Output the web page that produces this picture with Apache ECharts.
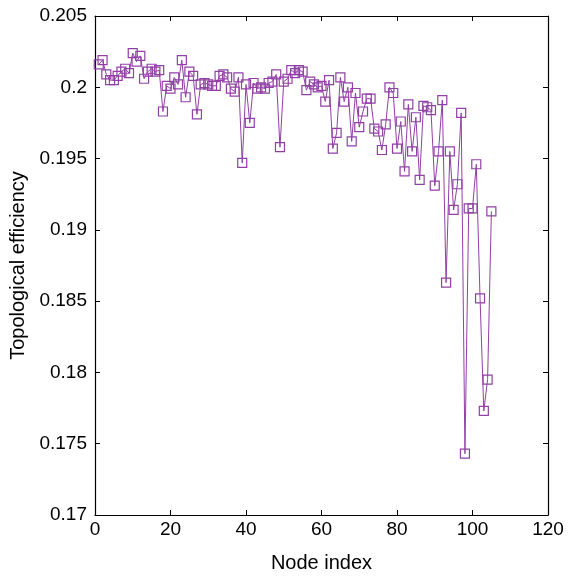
<!DOCTYPE html>
<html>
<head>
<meta charset="utf-8">
<script src="https://cdn.jsdelivr.net/npm/echarts@6/dist/echarts.min.js"></script>
<style>
  html, body { margin: 0; padding: 0; background: #fff; }
  #chart { width: 571px; height: 578px; }
</style>
</head>
<body>
<div id="chart"></div>
<script>
// Topological efficiency of the network after removing each node
const efficiency = [
  0.2016, 0.2019, 0.2009, 0.2005, 0.2005, 0.2008, 0.2011, 0.2013, 0.2010, 0.2024,
  0.2018, 0.2022, 0.2006, 0.2011, 0.2013, 0.2011, 0.2012, 0.1983, 0.2001, 0.1999,
  0.2007, 0.2002, 0.2019, 0.1993, 0.2011, 0.2008, 0.1981, 0.2002, 0.2003, 0.2002,
  0.2001, 0.2001, 0.2008, 0.2009, 0.2007, 0.1999, 0.1997, 0.2007, 0.1947, 0.2002,
  0.1975, 0.2003, 0.1999, 0.2000, 0.1999, 0.2003, 0.2004, 0.2009, 0.1958, 0.2004,
  0.2006, 0.2012, 0.2010, 0.2012, 0.2011, 0.1998, 0.2004, 0.2002, 0.2000, 0.2001,
  0.1990, 0.2005, 0.1957, 0.1968, 0.2007, 0.1990, 0.2000, 0.1962, 0.1996, 0.1972,
  0.1983, 0.1992, 0.1992, 0.1971, 0.1969, 0.1956, 0.1974, 0.2000, 0.1996, 0.1957,
  0.1976, 0.1941, 0.1988, 0.1955, 0.1979, 0.1935, 0.1987, 0.1986, 0.1984, 0.1931,
  0.1955, 0.1991, 0.1863, 0.1955, 0.1914, 0.1932, 0.1982, 0.1743, 0.1915, 0.1915,
  0.1946, 0.1852, 0.1773, 0.1795, 0.1913
];
// Node numbering starts at 1
const nodeIndex = efficiency.map((_, i) => i + 1);

const xTicks = { min: 0, max: 120, interval: 20 };
const yTicks = { min: 0.17, max: 0.205, interval: 0.005 };

const purple = '#9140a5';
const font = 'Liberation Sans, Arial, sans-serif';
const fontSize = 19;
const nameFontSize = 20;

const chart = echarts.init(document.getElementById('chart'), null, { renderer: 'canvas' });

const axisBase = {
  axisLine: { show: true, onZero: false, lineStyle: { color: '#000', width: 1.2 } },
  axisTick: { show: true, inside: true, length: 5, lineStyle: { color: '#000', width: 1 } },
  splitLine: { show: false }
};

chart.setOption({
  animation: false,
  backgroundColor: '#fff',
  grid: { left: 95, right: 23, top: 16, bottom: 60, containLabel: false },
  xAxis: [
    Object.assign({}, axisBase, {
      type: 'value', position: 'bottom',
      min: xTicks.min, max: xTicks.max, interval: xTicks.interval,
      name: 'Node index', nameLocation: 'middle', nameGap: 38,
      nameTextStyle: { fontFamily: font, fontSize: nameFontSize, color: '#000' },
      axisLabel: { fontFamily: font, fontSize: fontSize, color: '#000', margin: 5 }
    }),
    Object.assign({}, axisBase, {
      type: 'value', position: 'top',
      min: xTicks.min, max: xTicks.max, interval: xTicks.interval,
      axisLabel: { show: false }
    })
  ],
  yAxis: [
    Object.assign({}, axisBase, {
      type: 'value', position: 'left',
      min: yTicks.min, max: yTicks.max, interval: yTicks.interval,
      name: 'Topological efficiency', nameLocation: 'middle', nameGap: 66,
      nameTextStyle: { fontFamily: font, fontSize: nameFontSize, color: '#000' },
      axisLabel: { fontFamily: font, fontSize: fontSize, color: '#000', margin: 8 }
    }),
    Object.assign({}, axisBase, {
      type: 'value', position: 'right',
      min: yTicks.min, max: yTicks.max, interval: yTicks.interval,
      axisLabel: { show: false }
    })
  ],
  series: [{
    type: 'line',
    data: nodeIndex.map((n, i) => [n, efficiency[i]]),
    symbol: 'rect',
    symbolSize: 9,
    showAllSymbol: true,
    lineStyle: { color: purple, width: 1 },
    itemStyle: { color: 'rgba(0,0,0,0)', borderColor: purple, borderWidth: 1.2 },
    emphasis: { disabled: true }
  }]
});
</script>
</body>
</html>
